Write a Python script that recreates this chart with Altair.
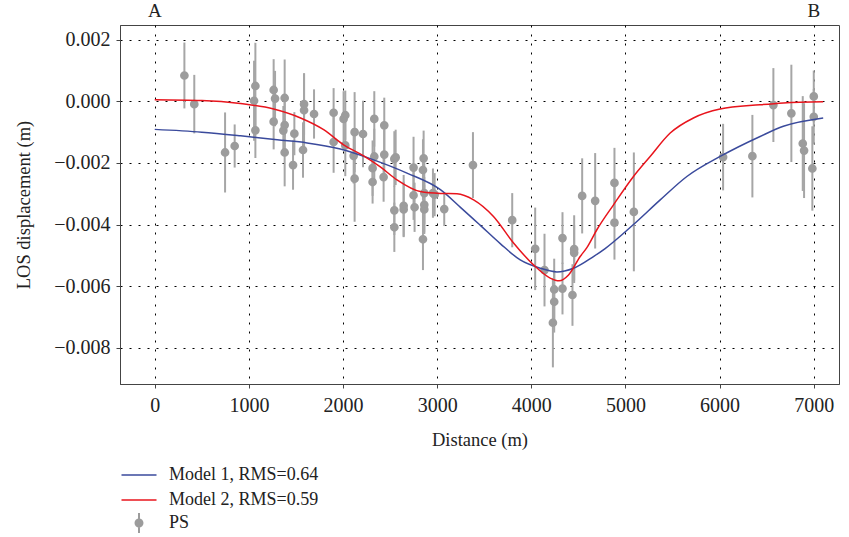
import altair as alt
import pandas as pd

# ---- PS observations (distance m, LOS displacement m, error half-length m)
ps_x = [315, 420, 747, 849, 1069, 1055, 1069, 1263, 1278, 1263,
        1380, 1380, 1366, 1380, 1483, 1469, 1575, 1586, 1586, 1692,
        1900, 1900, 2006, 2024, 2024, 2123, 2113, 2123, 2212, 2332,
        2332, 2314, 2314, 2438, 2438, 2431, 2545, 2559, 2545, 2545,
        2644, 2644, 2749, 2749, 2760, 2856, 2849, 2863, 2863, 2863,
        2849, 2955, 2973, 3075, 3380, 3797, 4041, 4140, 4243, 4243,
        4229, 4331, 4331, 4455, 4455, 4437, 4540, 4678, 4883, 4883,
        5089, 6037, 6348, 6571, 6762, 6883, 6897, 7000, 7000, 6985]
ps_y = [0.00084, -0.00009, -0.00166, -0.00145, 0.00050, 0.00002, -0.00094, 0.00037, 0.00009, -0.00066,
        0.00011, -0.00077, -0.00095, -0.00166, -0.00105, -0.00207, -0.00158, -0.00009, -0.00029, -0.00041,
        -0.00037, -0.00132, -0.00057, -0.00045, -0.00143, -0.00100, -0.00177, -0.00251, -0.00106, -0.00057,
        -0.00179, -0.00217, -0.00262, -0.00078, -0.00173, -0.00246, -0.00187, -0.00182, -0.00354, -0.00409,
        -0.00339, -0.00351, -0.00215, -0.00305, -0.00344, -0.00185, -0.00223, -0.00298, -0.00336, -0.00351,
        -0.00448, -0.00298, -0.00303, -0.00350, -0.00207, -0.00386, -0.00479, -0.00548, -0.00611, -0.00651,
        -0.00719, -0.00444, -0.00608, -0.00480, -0.00492, -0.00629, -0.00307, -0.00323, -0.00265, -0.00394,
        -0.00359, -0.00181, -0.00178, -0.00012, -0.00039, -0.00137, -0.00160, 0.00016, -0.00050, -0.00218]
ps_err = [0.00107, 0.00095, 0.00130, 0.00070, 0.00140, 0.00130, 0.00090, 0.00100, 0.00090, 0.00090,
          0.00125, 0.00090, 0.00080, 0.00110, 0.00070, 0.00080, 0.00090, 0.00100, 0.00120, 0.00080,
          0.00080, 0.00100, 0.00090, 0.00080, 0.00100, 0.00130, 0.00090, 0.00140, 0.00108, 0.00090,
          0.00090, 0.00090, 0.00070, 0.00090, 0.00080, 0.00080, 0.00090, 0.00090, 0.00080, 0.00080,
          0.00100, 0.00090, 0.00100, 0.00080, 0.00080, 0.00090, 0.00100, 0.00100, 0.00090, 0.00080,
          0.00100, 0.00080, 0.00070, 0.00055, 0.00107, 0.00088, 0.00134, 0.00118, 0.00100, 0.00100,
          0.00145, 0.00084, 0.00084, 0.00110, 0.00090, 0.00100, 0.00122, 0.00155, 0.00114, 0.00120,
          0.00193, 0.00108, 0.00134, 0.00120, 0.00158, 0.00154, 0.00154, 0.00084, 0.00090, 0.00137]

# ---- Model curves
m1_x = [0, 500, 911, 1300, 1618, 1971, 2325, 2679, 3034, 3250, 3456, 3670, 3882, 4095, 4272,
        4448, 4660, 4784, 5085, 5369, 5652, 6005, 6430, 6677, 7100]
m1_y = [-0.00091, -0.00100, -0.00112, -0.00125, -0.00135, -0.00155, -0.00190, -0.00233, -0.00287,
        -0.00345, -0.00402, -0.00462, -0.00515, -0.00542, -0.00554, -0.00542, -0.00504, -0.00478,
        -0.00400, -0.00320, -0.00244, -0.00179, -0.00114, -0.00081, -0.00054]
m2_x = [0, 500, 911, 1263, 1549, 1794, 2006, 2219, 2396, 2573, 2821, 3034, 3210, 3387, 3598,
        3811, 4023, 4200, 4296, 4395, 4519, 4590, 4696, 4873, 5085, 5262, 5475, 5722, 6005,
        6430, 6677, 7100]
m2_y = [0.000055, 0.00003, -0.00007, -0.00025, -0.00054, -0.00092, -0.00141, -0.00177, -0.00213,
        -0.00255, -0.00293, -0.00299, -0.00300, -0.00320, -0.00374, -0.00460, -0.00531, -0.00574,
        -0.00583, -0.00564, -0.00504, -0.00475, -0.00417, -0.00336, -0.00244, -0.00179, -0.00103,
        -0.00054, -0.00025, -0.00011, -0.00005, -0.00001]

model_names = ["Model 1, RMS=0.64", "Model 2, RMS=0.59"]
model_colors = ["#3a4a9c", "#e8141c"]
ps_name = "PS"

end_labels = ["A", "B"]
end_pos = [0, 7000]

x_ticks = [0, 1000, 2000, 3000, 4000, 5000, 6000, 7000]
y_ticks = [-0.008, -0.006, -0.004, -0.002, 0.0, 0.002]

FONT = "Liberation Serif"
GRAY = "#9c9c9c"

ps = pd.DataFrame({"d": ps_x, "v": ps_y, "e": ps_err})
ps["lo"] = ps["v"] - ps["e"]
ps["hi"] = ps["v"] + ps["e"]
ps["series"] = ps_name

models = pd.concat([
    pd.DataFrame({"d": m1_x, "v": m1_y, "model": model_names[0]}),
    pd.DataFrame({"d": m2_x, "v": m2_y, "model": model_names[1]}),
])
ends = pd.DataFrame({"d": end_pos, "t": end_labels})

xs = alt.Scale(domain=[-369, 7268], nice=False, zero=False)
ys = alt.Scale(domain=[-0.00918, 0.00248], nice=False, zero=False)

x_axis = alt.Axis(values=x_ticks, format="d", title="Distance (m)", grid=True,
                  titleY=55, titleBaseline="middle", labelPadding=7)
y_axis = alt.Axis(values=y_ticks, format=".3f", title="LOS displacement (m)", grid=True,
                  titleX=-97, titleBaseline="middle", labelPadding=6)

bars = alt.Chart(ps).mark_rule(color="#a6a6a6", strokeWidth=2).encode(
    x=alt.X("d:Q", scale=xs, axis=x_axis),
    y=alt.Y("lo:Q", scale=ys, axis=y_axis),
    y2="hi:Q",
)

# legend symbol: filled circle with a thin filled vertical bar above and below
ps_symbol = ("M-0.1,-1H0.1V-0.4H-0.1Z"
             "M-0.1,0.4H0.1V1H-0.1Z"
             "M-0.45,0A0.45,0.45,0,1,1,0.45,0A0.45,0.45,0,1,1,-0.45,0Z")
points = alt.Chart(ps).mark_point(filled=False, size=45, color=GRAY, fill=GRAY,
                                  strokeWidth=2, shape="circle").encode(
    x=alt.X("d:Q", scale=xs),
    y=alt.Y("v:Q", scale=ys),
    opacity=alt.Opacity("series:O", scale=alt.Scale(domain=[ps_name], range=[1]),
                        legend=alt.Legend(
                            title=None, orient="none", legendX=8, legendY=487,
                            symbolType=ps_symbol, symbolSize=400,
                            labelOffset=19, padding=0,
                            symbolFillColor=GRAY, symbolStrokeColor=GRAY,
                            symbolStrokeWidth=2)),
)

lines = alt.Chart(models).mark_line(strokeWidth=1.5, interpolate="monotone").encode(
    x=alt.X("d:Q", scale=xs),
    y=alt.Y("v:Q", scale=ys),
    color=alt.Color("model:N", scale=alt.Scale(domain=model_names, range=model_colors),
                    legend=alt.Legend(title=None, orient="none", legendX=8, legendY=439,
                                      symbolType="M-1.75,0H1.75", symbolSize=400,
                                      symbolStrokeWidth=1.5, labelOffset=19, padding=0,
                                      rowPadding=5)),
    detail="model:N",
)

ends_text = alt.Chart(ends).mark_text(font=FONT, fontSize=19, baseline="middle",
                                      color="#222222").encode(
    x=alt.X("d:Q", scale=xs),
    y=alt.value(-14),
    text="t:N",
)

chart = alt.layer(bars, points, lines, ends_text).resolve_legend(
    color="independent", opacity="independent"
).properties(
    width=719, height=359,
    autosize=alt.AutoSizeParams(type="none"),
    padding={"left": 120, "top": 25, "right": 10, "bottom": 153},
).configure_view(
    stroke="#444444", strokeWidth=1
).configure_axis(
    labelFont=FONT, titleFont=FONT, labelFontSize=20, titleFontSize=18.5,
    titleFontWeight="normal", labelColor="#222222", titleColor="#222222",
    domainColor="#444444", tickColor="#444444", tickSize=4,
    gridColor="#000000", gridOpacity=1, gridWidth=1, gridDash=[2, 7],
).configure_legend(
    labelFont=FONT, labelFontSize=18, labelColor="#222222",
)

chart.save("out.html", embed_options={"renderer": "svg", "actions": False})
